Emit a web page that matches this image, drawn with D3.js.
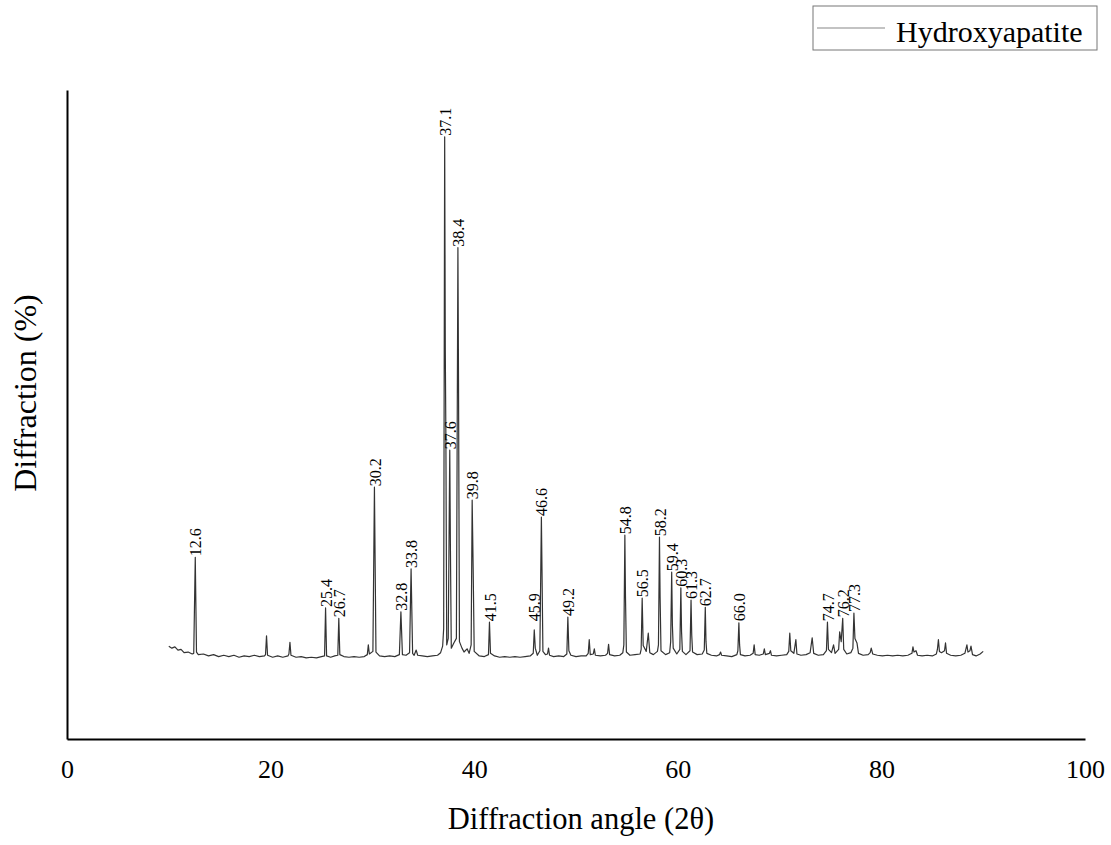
<!DOCTYPE html>
<html>
<head>
<meta charset="utf-8">
<script src="https://cdn.jsdelivr.net/npm/d3@7"></script>
<style>
  html, body { margin: 0; padding: 0; background: #fff; }
  svg { display: block; }
  text { font-family: "Liberation Serif", "Times New Roman", serif; fill: #000; }
</style>
</head>
<body>
<script>
// ---- data ----
const seriesName = "Hydroxyapatite";
const xTicks = [0, 20, 40, 60, 80, 100];
// [diffraction angle 2θ, relative intensity]
const pattern = [
[10.0,14.3],[10.3,14.0],[10.6,14.2],[10.9,13.7],[11.2,13.8],[11.5,13.3],[11.9,13.4],[12.3,13.1],[12.45,13.2],
[12.6,28.0],[12.72,13.4],[12.9,13.0],[13.4,13.1],[13.9,12.8],[14.4,13.0],[14.9,12.7],[15.4,12.9],[15.9,12.7],[16.4,12.9],[16.9,12.6],[17.4,12.8],[17.9,12.7],[18.4,12.9],[18.9,12.7],[19.4,12.8],[19.5,13.0],
[19.6,15.9],[19.7,12.9],[20.2,12.6],[20.7,12.8],[21.2,12.6],[21.7,12.8],[21.8,13.1],[21.9,14.9],[22.0,12.9],[22.5,12.6],[23.0,12.7],[23.5,12.5],[24.0,12.6],[24.5,12.5],[25.0,12.7],[25.3,12.8],
[25.4,20.2],[25.5,12.8],[25.9,12.6],[26.3,12.8],[26.6,12.9],[26.7,18.6],[26.8,13.0],[27.2,12.7],[27.7,12.6],[28.2,12.7],[28.7,12.6],[29.2,12.7],[29.5,13.0],[29.6,14.5],[29.7,13.1],[30.05,13.5],
[30.2,38.8],[30.35,13.4],[30.7,12.8],[31.2,12.7],[31.7,12.8],[32.2,12.7],[32.65,13.0],[32.8,19.6],[32.95,13.0],[33.3,12.9],[33.65,13.3],[33.8,26.2],[33.95,13.2],[34.1,12.9],[34.3,13.7],[34.45,12.9],[34.9,12.8],[35.4,12.7],[35.9,12.8],[36.4,12.9],[36.7,13.3],[36.9,14.3],[37.0,17.0],
[37.1,92.8],[37.16,60.0],[37.22,46.0],[37.3,14.5],[37.45,15.5],[37.6,44.5],[37.66,30.0],[37.75,14.0],[38.0,14.8],[38.25,15.5],[38.4,75.7],[38.46,55.0],[38.55,15.0],[38.8,14.0],[39.0,13.4],[39.3,13.9],[39.5,13.2],[39.7,14.5],
[39.8,36.8],[39.9,26.0],[40.0,13.5],[40.5,12.8],[41.0,12.7],[41.4,13.0],[41.5,18.0],[41.6,13.2],[42.0,12.8],[42.5,12.6],[43.0,12.7],[43.5,12.6],[44.0,12.7],[44.5,12.6],[45.0,12.7],[45.5,12.8],[45.8,13.2],
[45.9,16.8],[46.0,14.0],[46.2,12.9],[46.45,13.6],[46.6,34.2],[46.66,26.0],[46.75,13.5],[47.0,13.0],[47.2,13.1],[47.3,14.0],[47.4,12.9],[47.8,12.7],[48.3,12.8],[48.8,12.7],[49.1,13.1],[49.2,18.8],[49.3,13.6],[49.5,12.9],[50.0,12.7],[50.5,12.8],[51.0,12.8],[51.2,13.2],
[51.3,15.3],[51.4,13.0],[51.7,13.1],[51.8,13.9],[51.9,12.9],[52.4,12.8],[52.9,12.9],[53.1,13.2],[53.2,14.6],[53.3,13.0],[53.8,12.8],[54.3,12.9],[54.6,13.3],[54.7,14.5],[54.8,31.4],[54.86,22.0],[54.95,13.4],[55.3,12.9],[55.8,13.0],[56.3,13.1],[56.4,13.8],[56.5,21.7],[56.6,14.4],[56.9,13.5],[57.1,16.3],[57.25,13.3],[57.6,13.0],[58.0,13.5],[58.1,14.5],
[58.2,31.1],[58.26,22.0],[58.35,13.6],[58.8,13.0],[59.2,13.3],[59.3,15.0],[59.4,25.7],[59.47,17.5],[59.55,14.0],[59.9,13.1],[60.2,13.8],[60.3,23.3],[60.37,16.5],[60.45,13.5],[60.8,13.0],[61.2,13.6],[61.3,21.4],[61.37,16.0],[61.45,13.4],[61.9,13.0],[62.4,13.1],[62.6,13.7],[62.7,20.3],[62.77,15.0],[62.85,13.2],[63.3,12.9],[63.8,12.8],[64.1,13.0],[64.2,13.4],[64.3,12.9],[64.8,12.8],[65.3,12.7],[65.8,13.0],[65.9,13.6],
[66.0,17.9],[66.07,14.5],[66.15,13.0],[66.6,12.8],[67.1,12.9],[67.4,13.2],[67.5,14.5],[67.6,13.0],[68.0,12.9],[68.4,13.1],[68.5,13.9],[68.6,13.0],[69.0,13.2],[69.1,13.6],[69.2,12.9],[69.7,12.8],[70.2,12.9],[70.7,13.0],[70.9,13.5],[71.0,16.3],[71.1,13.6],[71.4,13.2],[71.6,15.3],[71.7,13.1],[72.1,12.9],[72.6,13.0],[73.0,13.3],[73.2,15.6],[73.35,13.2],[73.8,12.9],[74.3,13.0],[74.6,13.6],
[74.7,18.0],[74.8,13.8],[75.1,13.3],[75.3,14.5],[75.45,13.2],[75.8,13.8],[75.9,16.5],[76.05,15.0],[76.2,18.6],[76.3,13.8],[76.6,13.1],[77.0,13.3],[77.2,14.0],[77.3,19.4],[77.4,15.5],[77.6,14.8],[77.75,13.2],[78.2,12.9],[78.7,13.0],[78.9,13.3],[79.0,14.0],[79.15,13.1],[79.6,12.9],[80.1,12.8],[80.6,12.9],[81.1,12.8],[81.6,12.9],[82.1,12.8],[82.6,12.9],[83.0,13.2],[83.1,14.2],[83.2,13.4],[83.4,13.6],[83.55,12.9],[84.0,12.8],[84.5,12.9],[85.0,12.8],[85.4,13.1],[85.5,13.8],
[85.6,15.3],[85.7,13.5],[85.9,13.3],[86.2,13.6],[86.3,14.8],[86.4,13.2],[86.8,12.9],[87.3,12.8],[87.8,12.9],[88.2,13.2],[88.4,14.5],[88.5,13.4],[88.7,13.6],[88.8,14.3],[88.95,13.0],[89.3,12.8],[89.7,13.1],[90.0,13.5]
];
// labelled peaks: angle and intensity at peak top
const peakAngles  = [12.6, 25.4, 26.7, 30.2, 32.8, 33.8, 37.1, 37.6, 38.4, 39.8, 41.5, 45.9, 46.6, 49.2, 54.8, 56.5, 58.2, 59.4, 60.3, 61.3, 62.7, 66.0, 74.7, 76.2, 77.3];
const peakHeights = [28.0, 20.2, 18.6, 38.8, 19.6, 26.2, 92.8, 44.5, 75.7, 36.8, 18.0, 18.0, 34.2, 18.8, 31.4, 21.7, 31.1, 25.7, 23.3, 21.4, 20.3, 18.0, 18.0, 18.6, 19.4];

// ---- drawing ----
const W = 1111, H = 845;
const svg = d3.select("body").append("svg").attr("width", W).attr("height", H);

const x = d3.scaleLinear().domain([0, 100]).range([67, 1085]);
const y = d3.scaleLinear().domain([0, 100]).range([739, 90]);

// axes (no tick marks)
const xAxis = svg.append("g").attr("transform", `translate(0,${y(0)})`)
  .call(d3.axisBottom(x).tickValues(xTicks).tickSize(0).tickPadding(21).tickFormat(d3.format("d")));
xAxis.select(".domain").attr("stroke", "#000").attr("stroke-width", 2);
xAxis.selectAll("text").style("font-family", '"Liberation Serif", serif').style("font-size", "26px").attr("fill", "#000");

const yAxis = svg.append("g").attr("transform", `translate(${x(0)},0)`)
  .call(d3.axisLeft(y).tickValues([]).tickSize(0));
yAxis.select(".domain").attr("stroke", "#000").attr("stroke-width", 2);

// diffraction pattern
const line = d3.line().x(d => x(d[0])).y(d => y(d[1]));
svg.append("path").datum(pattern)
  .attr("d", line).attr("fill", "none")
  .attr("stroke", "#333").attr("stroke-width", 1.2).attr("stroke-linejoin", "round");

// peak labels
const peaks = peakAngles.map((a, i) => ({ a, h: peakHeights[i] }));
svg.append("g").selectAll("text").data(peaks).join("text")
  .attr("transform", d => `translate(${x(d.a) + 0.5},${y(d.h) - 1}) rotate(-90)`)
  .attr("dy", "0.35em")
  .attr("text-anchor", "start")
  .style("font-size", "16px")
  .text(d => d.a.toFixed(1));

// axis titles
svg.append("text").attr("x", 581).attr("y", 829).attr("text-anchor", "middle")
  .style("font-size", "30.5px").text("Diffraction angle (2θ)");
svg.append("text").attr("transform", `translate(36,393) rotate(-90)`).attr("text-anchor", "middle")
  .style("font-size", "32px").text("Diffraction (%)");

// legend
const lg = svg.append("g");
lg.append("rect").attr("x", 813).attr("y", 6).attr("width", 284).attr("height", 44)
  .attr("fill", "#fff").attr("stroke", "#777").attr("stroke-width", 1);
lg.append("line").attr("x1", 817).attr("x2", 885).attr("y1", 28).attr("y2", 28)
  .attr("stroke", "#888").attr("stroke-width", 1.2);
lg.append("text").attr("x", 896).attr("y", 42).style("font-size", "30px").text(seriesName);
</script>
</body>
</html>
